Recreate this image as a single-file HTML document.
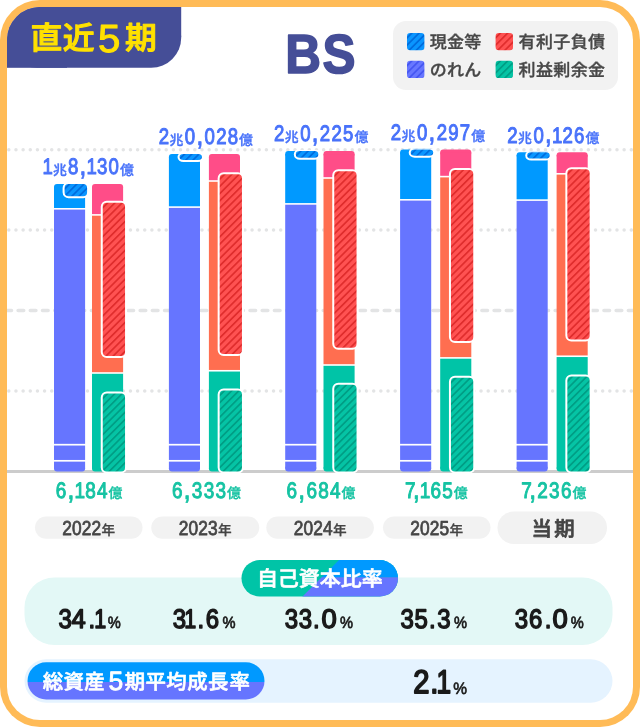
<!DOCTYPE html>
<html lang="ja">
<head>
<meta charset="utf-8">
<title>BS</title>
<style>
html,body{margin:0;padding:0;background:#fff;}
body{width:640px;height:727px;overflow:hidden;font-family:"Liberation Sans", "Noto Sans CJK JP", sans-serif;}
svg{display:block;}
text{font-family:"Liberation Sans", "Noto Sans CJK JP", sans-serif;font-weight:700;text-rendering:geometricPrecision;}
.lat{font-family:"Liberation Sans", sans-serif;}
.w4{font-weight:400;}
.w5{font-weight:500;}
.w7{font-weight:700;}
.cj{font-family:"Liberation Sans", "Noto Sans CJK JP", sans-serif;}
</style>
</head>
<body>
<svg width="640" height="727" viewBox="0 0 640 727">
<defs>

<pattern id="hCash" width="5.1" height="5.1" patternUnits="userSpaceOnUse" patternTransform="rotate(-45) translate(0 2.7)"><rect width="5.1" height="5.1" fill="#0A96FF"/><rect width="5.1" height="1.75" fill="#006CDD"/></pattern>
<pattern id="hGw" width="5.1" height="5.1" patternUnits="userSpaceOnUse" patternTransform="rotate(-45) translate(0 2.7)"><rect width="5.1" height="5.1" fill="#6877FF"/><rect width="5.1" height="1.75" fill="#4556F2"/></pattern>
<pattern id="hRed" width="5.1" height="5.1" patternUnits="userSpaceOnUse" patternTransform="rotate(-45) translate(0 2.7)"><rect width="5.1" height="5.1" fill="#FF5252"/><rect width="5.1" height="1.75" fill="#E02D2D"/></pattern>
<pattern id="hGrn" width="5.1" height="5.1" patternUnits="userSpaceOnUse" patternTransform="rotate(-45) translate(0 2.7)"><rect width="5.1" height="5.1" fill="#05C4A5"/><rect width="5.1" height="1.75" fill="#009E85"/></pattern>
<clipPath id="cardclip"><rect x="7" y="7" width="626" height="713" rx="33" ry="33"/></clipPath>
<clipPath id="pill1"><rect x="241.5" y="560" width="156.5" height="36.5" rx="18.25"/></clipPath>
<clipPath id="pill2"><rect x="27.5" y="662.3" width="237" height="37.2" rx="18.6"/></clipPath>
</defs>
<rect x="0" y="0" width="640" height="727" rx="40" ry="40" fill="#FFBB57"/>
<rect x="7" y="7" width="626" height="713" rx="33" ry="33" fill="#fff"/>
<g clip-path="url(#cardclip)" fill="#454E97"><rect x="7" y="7" width="174.2" height="60.8" rx="30"/><rect x="7" y="7" width="60" height="30"/><rect x="121" y="7" width="60.2" height="30"/><rect x="7" y="37" width="60" height="30.8"/></g>
<text class="w5" transform="translate(0 49.3) scale(1.04 1.02)" y="0" font-size="30.6" fill="#FFE100" stroke="#FFE100" stroke-width="1.0" stroke-linejoin="round"><tspan x="29.3">直</tspan><tspan x="60.35">近</tspan><tspan class="lat w4" x="94.3" dy="2.6" font-size="38.6">5</tspan><tspan x="120.15" dy="-2.6">期</tspan></text>
<text class="lat" transform="translate(285.2 73.1) scale(0.9 1)" x="0 41.5" y="0" font-size="55" fill="#454E97" stroke="#454E97" stroke-width="1.6" stroke-linejoin="round">BS</text>
<rect x="393" y="21" width="225" height="69" rx="13" fill="#F2F2F2"/>
<g transform="translate(407 32.9)"><rect width="17.4" height="17.4" rx="3.2" fill="url(#hCash)"/></g>
<g transform="translate(407 60.7)"><rect width="17.4" height="17.4" rx="3.2" fill="url(#hGw)"/></g>
<g transform="translate(495.6 32.9)"><rect width="17.4" height="17.4" rx="3.2" fill="url(#hRed)"/></g>
<g transform="translate(495.6 60.7)"><rect width="17.4" height="17.4" rx="3.2" fill="url(#hGrn)"/></g>
<text class="w5" x="429.80 447.00 464.20" y="48.3" font-size="17" fill="#474747" stroke="#474747" stroke-width="0.35" stroke-linejoin="round">現金等</text>
<text class="w5" x="429.80 447.00 464.20" y="76.3" font-size="17" fill="#474747" stroke="#474747" stroke-width="0.35" stroke-linejoin="round">のれん</text>
<text class="w5" x="518.60 535.95 553.30 570.65 588.00" y="48.3" font-size="17" fill="#474747" stroke="#474747" stroke-width="0.35" stroke-linejoin="round">有利子負債</text>
<text class="w5" x="518.60 535.95 553.30 570.65 588.00" y="76.3" font-size="17" fill="#474747" stroke="#474747" stroke-width="0.35" stroke-linejoin="round">利益剰余金</text>
<g clip-path="url(#cardclip)" fill="none" stroke="#E3E4E5" stroke-width="3.5" stroke-linecap="round">
<line x1="8.8" y1="149.7" x2="640" y2="149.7" stroke-dasharray="0.01 7.145"/>
<line x1="8.8" y1="230.1" x2="640" y2="230.1" stroke-dasharray="0.01 7.145"/>
<line x1="8.8" y1="390.9" x2="640" y2="390.9" stroke-dasharray="0.01 7.145"/>
<line x1="5.87" y1="310.6" x2="640" y2="310.6" stroke-dasharray="5.65 6.555"/>
</g>
<rect x="7" y="470" width="626" height="3" fill="#CCCCCC"/>
<g>
<rect x="54.00" y="184.00" width="31.1" height="6" rx="3" fill="#0099FF"/><rect x="54.00" y="187.00" width="31.1" height="21.00" fill="#0099FF"/>
<rect x="54.0" y="209.60" width="31.1" height="234.25" fill="#6675FF"/>
<rect x="54.0" y="445.55" width="31.1" height="14.4" fill="#6675FF"/>
<rect x="54.00" y="465.50" width="31.1" height="6" rx="3" fill="#6675FF"/><rect x="54.00" y="461.65" width="31.1" height="6.85" fill="#6675FF"/>
<g transform="translate(64.60 184.00)"><rect x="-1" y="-1" width="24.5" height="14.30" rx="5" fill="url(#hCash)" stroke="#fff" stroke-width="2" clip-path="inset(1px -3px -3px -3px)"/></g>
<rect x="92.00" y="184.00" width="31.1" height="6" rx="3" fill="#FF4D88"/><rect x="92.00" y="187.00" width="31.1" height="27.10" fill="#FF4D88"/>
<rect x="92.0" y="215.70" width="31.1" height="156.50" fill="#FF6E50"/>
<rect x="92.00" y="465.50" width="31.1" height="6" rx="3" fill="#00C4A7"/><rect x="92.00" y="373.80" width="31.1" height="94.70" fill="#00C4A7"/>
<g transform="translate(102.75 202.75)"><rect x="-1" y="-1" width="24.3" height="155.25" rx="5" fill="url(#hRed)" stroke="#fff" stroke-width="2"/></g>
<g transform="translate(102.75 393.50)"><rect x="-1" y="-1" width="24.3" height="80.00" rx="5" fill="url(#hGrn)" stroke="#fff" stroke-width="2"/></g>
</g>
<g>
<rect x="168.90" y="154.10" width="31.1" height="6" rx="3" fill="#0099FF"/><rect x="168.90" y="157.10" width="31.1" height="49.20" fill="#0099FF"/>
<rect x="168.9" y="207.90" width="31.1" height="235.95" fill="#6675FF"/>
<rect x="168.9" y="445.55" width="31.1" height="14.4" fill="#6675FF"/>
<rect x="168.90" y="465.50" width="31.1" height="6" rx="3" fill="#6675FF"/><rect x="168.90" y="461.65" width="31.1" height="6.85" fill="#6675FF"/>
<g transform="translate(179.50 154.10)"><rect x="-1" y="-1" width="24.5" height="7.90" rx="5" fill="url(#hCash)" stroke="#fff" stroke-width="2" clip-path="inset(1px -3px -3px -3px)"/></g>
<rect x="208.90" y="154.10" width="31.1" height="6" rx="3" fill="#FF4D88"/><rect x="208.90" y="157.10" width="31.1" height="23.10" fill="#FF4D88"/>
<rect x="208.9" y="181.80" width="31.1" height="188.15" fill="#FF6E50"/>
<rect x="208.90" y="465.50" width="31.1" height="6" rx="3" fill="#00C4A7"/><rect x="208.90" y="371.55" width="31.1" height="96.95" fill="#00C4A7"/>
<g transform="translate(219.65 174.25)"><rect x="-1" y="-1" width="24.3" height="181.75" rx="5" fill="url(#hRed)" stroke="#fff" stroke-width="2"/></g>
<g transform="translate(219.65 390.50)"><rect x="-1" y="-1" width="24.3" height="83.00" rx="5" fill="url(#hGrn)" stroke="#fff" stroke-width="2"/></g>
</g>
<g>
<rect x="285.20" y="151.10" width="31.1" height="6" rx="3" fill="#0099FF"/><rect x="285.20" y="154.10" width="31.1" height="49.00" fill="#0099FF"/>
<rect x="285.2" y="204.70" width="31.1" height="239.15" fill="#6675FF"/>
<rect x="285.2" y="445.55" width="31.1" height="14.4" fill="#6675FF"/>
<rect x="285.20" y="465.50" width="31.1" height="6" rx="3" fill="#6675FF"/><rect x="285.20" y="461.65" width="31.1" height="6.85" fill="#6675FF"/>
<g transform="translate(295.80 151.10)"><rect x="-1" y="-1" width="24.5" height="8.60" rx="5" fill="url(#hCash)" stroke="#fff" stroke-width="2" clip-path="inset(1px -3px -3px -3px)"/></g>
<rect x="323.50" y="151.10" width="31.1" height="6" rx="3" fill="#FF4D88"/><rect x="323.50" y="154.10" width="31.1" height="23.10" fill="#FF4D88"/>
<rect x="323.5" y="178.80" width="31.1" height="185.40" fill="#FF6E50"/>
<rect x="323.50" y="465.50" width="31.1" height="6" rx="3" fill="#00C4A7"/><rect x="323.50" y="365.80" width="31.1" height="102.70" fill="#00C4A7"/>
<g transform="translate(334.25 171.25)"><rect x="-1" y="-1" width="24.3" height="178.50" rx="5" fill="url(#hRed)" stroke="#fff" stroke-width="2"/></g>
<g transform="translate(334.25 384.75)"><rect x="-1" y="-1" width="24.3" height="88.75" rx="5" fill="url(#hGrn)" stroke="#fff" stroke-width="2"/></g>
</g>
<g>
<rect x="400.10" y="149.60" width="31.1" height="6" rx="3" fill="#0099FF"/><rect x="400.10" y="152.60" width="31.1" height="46.40" fill="#0099FF"/>
<rect x="400.1" y="200.60" width="31.1" height="243.25" fill="#6675FF"/>
<rect x="400.1" y="445.55" width="31.1" height="14.4" fill="#6675FF"/>
<rect x="400.10" y="465.50" width="31.1" height="6" rx="3" fill="#6675FF"/><rect x="400.10" y="461.65" width="31.1" height="6.85" fill="#6675FF"/>
<g transform="translate(410.70 149.60)"><rect x="-1" y="-1" width="24.5" height="8.10" rx="5" fill="url(#hCash)" stroke="#fff" stroke-width="2" clip-path="inset(1px -3px -3px -3px)"/></g>
<rect x="440.20" y="149.60" width="31.1" height="6" rx="3" fill="#FF4D88"/><rect x="440.20" y="152.60" width="31.1" height="23.20" fill="#FF4D88"/>
<rect x="440.2" y="177.40" width="31.1" height="179.70" fill="#FF6E50"/>
<rect x="440.20" y="465.50" width="31.1" height="6" rx="3" fill="#00C4A7"/><rect x="440.20" y="358.70" width="31.1" height="109.80" fill="#00C4A7"/>
<g transform="translate(450.95 170.00)"><rect x="-1" y="-1" width="24.3" height="173.00" rx="5" fill="url(#hRed)" stroke="#fff" stroke-width="2"/></g>
<g transform="translate(450.95 377.75)"><rect x="-1" y="-1" width="24.3" height="95.75" rx="5" fill="url(#hGrn)" stroke="#fff" stroke-width="2"/></g>
</g>
<g>
<rect x="516.60" y="152.30" width="31.1" height="6" rx="3" fill="#0099FF"/><rect x="516.60" y="155.30" width="31.1" height="44.00" fill="#0099FF"/>
<rect x="516.6" y="200.90" width="31.1" height="242.95" fill="#6675FF"/>
<rect x="516.6" y="445.55" width="31.1" height="14.4" fill="#6675FF"/>
<rect x="516.60" y="465.50" width="31.1" height="6" rx="3" fill="#6675FF"/><rect x="516.60" y="461.65" width="31.1" height="6.85" fill="#6675FF"/>
<g transform="translate(527.20 152.30)"><rect x="-1" y="-1" width="24.5" height="8.30" rx="5" fill="url(#hCash)" stroke="#fff" stroke-width="2" clip-path="inset(1px -3px -3px -3px)"/></g>
<rect x="556.60" y="152.30" width="31.1" height="6" rx="3" fill="#FF4D88"/><rect x="556.60" y="155.30" width="31.1" height="17.70" fill="#FF4D88"/>
<rect x="556.6" y="174.60" width="31.1" height="180.85" fill="#FF6E50"/>
<rect x="556.60" y="465.50" width="31.1" height="6" rx="3" fill="#00C4A7"/><rect x="556.60" y="357.05" width="31.1" height="111.45" fill="#00C4A7"/>
<g transform="translate(567.35 169.20)"><rect x="-1" y="-1" width="24.3" height="172.30" rx="5" fill="url(#hRed)" stroke="#fff" stroke-width="2"/></g>
<g transform="translate(567.35 376.50)"><rect x="-1" y="-1" width="24.3" height="97.00" rx="5" fill="url(#hGrn)" stroke="#fff" stroke-width="2"/></g>
</g>
<text fill="#4872FA" stroke="#4872FA" stroke-linejoin="round"><tspan class="lat w4" x="42.58" y="174.25" font-size="22.4" stroke-width="1.0" textLength="10.34" lengthAdjust="spacingAndGlyphs">1</tspan><tspan class="cj w5" x="53.00" y="175.15" font-size="13.9" stroke-width="0.35">兆</tspan><tspan class="lat w4" x="67.93" y="174.25" font-size="22.4" stroke-width="1.0" textLength="10.34" lengthAdjust="spacingAndGlyphs">8</tspan><tspan class="lat w7" x="80.27" y="175.05" font-size="22.4" stroke-width="0.7" textLength="5.17" lengthAdjust="spacingAndGlyphs">,</tspan><tspan class="lat w4" x="86.47" y="174.25" font-size="22.4" stroke-width="1.0" textLength="10.34" lengthAdjust="spacingAndGlyphs">1</tspan><tspan class="lat w4" x="96.91" y="174.25" font-size="22.4" stroke-width="1.0" textLength="10.34" lengthAdjust="spacingAndGlyphs">3</tspan><tspan class="lat w4" x="108.51" y="174.25" font-size="22.4" stroke-width="1.0" textLength="10.34" lengthAdjust="spacingAndGlyphs">0</tspan><tspan class="cj w5" x="119.88" y="175.15" font-size="13.9" stroke-width="0.35">億</tspan></text>
<text fill="#16C3A3" stroke="#16C3A3" stroke-linejoin="round"><tspan class="lat w4" x="55.79" y="497.90" font-size="22.4" stroke-width="1.0" textLength="10.53" lengthAdjust="spacingAndGlyphs">6</tspan><tspan class="lat w7" x="68.27" y="498.70" font-size="22.4" stroke-width="0.7" textLength="5.26" lengthAdjust="spacingAndGlyphs">,</tspan><tspan class="lat w4" x="74.51" y="497.90" font-size="22.4" stroke-width="1.0" textLength="10.53" lengthAdjust="spacingAndGlyphs">1</tspan><tspan class="lat w4" x="85.13" y="497.90" font-size="22.4" stroke-width="1.0" textLength="10.53" lengthAdjust="spacingAndGlyphs">8</tspan><tspan class="lat w4" x="96.93" y="497.90" font-size="22.4" stroke-width="1.0" textLength="10.53" lengthAdjust="spacingAndGlyphs">4</tspan><tspan class="cj w5" x="108.49" y="498.40" font-size="13.9" stroke-width="0.35">億</tspan></text>
<text fill="#4872FA" stroke="#4872FA" stroke-linejoin="round"><tspan class="lat w4" x="158.63" y="144.35" font-size="22.4" stroke-width="1.0" textLength="10.34" lengthAdjust="spacingAndGlyphs">2</tspan><tspan class="cj w5" x="169.40" y="145.25" font-size="13.9" stroke-width="0.35">兆</tspan><tspan class="lat w4" x="184.83" y="144.35" font-size="22.4" stroke-width="1.0" textLength="10.34" lengthAdjust="spacingAndGlyphs">0</tspan><tspan class="lat w7" x="197.17" y="145.15" font-size="22.4" stroke-width="0.7" textLength="5.17" lengthAdjust="spacingAndGlyphs">,</tspan><tspan class="lat w4" x="204.53" y="144.35" font-size="22.4" stroke-width="1.0" textLength="10.34" lengthAdjust="spacingAndGlyphs">0</tspan><tspan class="lat w4" x="216.13" y="144.35" font-size="22.4" stroke-width="1.0" textLength="10.34" lengthAdjust="spacingAndGlyphs">2</tspan><tspan class="lat w4" x="227.73" y="144.35" font-size="22.4" stroke-width="1.0" textLength="10.34" lengthAdjust="spacingAndGlyphs">8</tspan><tspan class="cj w5" x="239.10" y="145.25" font-size="13.9" stroke-width="0.35">億</tspan></text>
<text fill="#16C3A3" stroke="#16C3A3" stroke-linejoin="round"><tspan class="lat w4" x="171.94" y="497.90" font-size="22.4" stroke-width="1.0" textLength="10.53" lengthAdjust="spacingAndGlyphs">6</tspan><tspan class="lat w7" x="184.42" y="498.70" font-size="22.4" stroke-width="0.7" textLength="5.26" lengthAdjust="spacingAndGlyphs">,</tspan><tspan class="lat w4" x="191.84" y="497.90" font-size="22.4" stroke-width="1.0" textLength="10.53" lengthAdjust="spacingAndGlyphs">3</tspan><tspan class="lat w4" x="203.64" y="497.90" font-size="22.4" stroke-width="1.0" textLength="10.53" lengthAdjust="spacingAndGlyphs">3</tspan><tspan class="lat w4" x="215.44" y="497.90" font-size="22.4" stroke-width="1.0" textLength="10.53" lengthAdjust="spacingAndGlyphs">3</tspan><tspan class="cj w5" x="227.00" y="498.40" font-size="13.9" stroke-width="0.35">億</tspan></text>
<text fill="#4872FA" stroke="#4872FA" stroke-linejoin="round"><tspan class="lat w4" x="273.93" y="141.35" font-size="22.4" stroke-width="1.0" textLength="10.34" lengthAdjust="spacingAndGlyphs">2</tspan><tspan class="cj w5" x="284.70" y="142.25" font-size="13.9" stroke-width="0.35">兆</tspan><tspan class="lat w4" x="300.13" y="141.35" font-size="22.4" stroke-width="1.0" textLength="10.34" lengthAdjust="spacingAndGlyphs">0</tspan><tspan class="lat w7" x="312.47" y="142.15" font-size="22.4" stroke-width="0.7" textLength="5.17" lengthAdjust="spacingAndGlyphs">,</tspan><tspan class="lat w4" x="319.83" y="141.35" font-size="22.4" stroke-width="1.0" textLength="10.34" lengthAdjust="spacingAndGlyphs">2</tspan><tspan class="lat w4" x="331.43" y="141.35" font-size="22.4" stroke-width="1.0" textLength="10.34" lengthAdjust="spacingAndGlyphs">2</tspan><tspan class="lat w4" x="343.03" y="141.35" font-size="22.4" stroke-width="1.0" textLength="10.34" lengthAdjust="spacingAndGlyphs">5</tspan><tspan class="cj w5" x="354.40" y="142.25" font-size="13.9" stroke-width="0.35">億</tspan></text>
<text fill="#16C3A3" stroke="#16C3A3" stroke-linejoin="round"><tspan class="lat w4" x="286.54" y="497.90" font-size="22.4" stroke-width="1.0" textLength="10.53" lengthAdjust="spacingAndGlyphs">6</tspan><tspan class="lat w7" x="299.02" y="498.70" font-size="22.4" stroke-width="0.7" textLength="5.26" lengthAdjust="spacingAndGlyphs">,</tspan><tspan class="lat w4" x="306.44" y="497.90" font-size="22.4" stroke-width="1.0" textLength="10.53" lengthAdjust="spacingAndGlyphs">6</tspan><tspan class="lat w4" x="318.24" y="497.90" font-size="22.4" stroke-width="1.0" textLength="10.53" lengthAdjust="spacingAndGlyphs">8</tspan><tspan class="lat w4" x="330.04" y="497.90" font-size="22.4" stroke-width="1.0" textLength="10.53" lengthAdjust="spacingAndGlyphs">4</tspan><tspan class="cj w5" x="341.60" y="498.40" font-size="13.9" stroke-width="0.35">億</tspan></text>
<text fill="#4872FA" stroke="#4872FA" stroke-linejoin="round"><tspan class="lat w4" x="390.73" y="139.85" font-size="22.4" stroke-width="1.0" textLength="10.34" lengthAdjust="spacingAndGlyphs">2</tspan><tspan class="cj w5" x="401.50" y="140.75" font-size="13.9" stroke-width="0.35">兆</tspan><tspan class="lat w4" x="416.93" y="139.85" font-size="22.4" stroke-width="1.0" textLength="10.34" lengthAdjust="spacingAndGlyphs">0</tspan><tspan class="lat w7" x="429.27" y="140.65" font-size="22.4" stroke-width="0.7" textLength="5.17" lengthAdjust="spacingAndGlyphs">,</tspan><tspan class="lat w4" x="436.63" y="139.85" font-size="22.4" stroke-width="1.0" textLength="10.34" lengthAdjust="spacingAndGlyphs">2</tspan><tspan class="lat w4" x="448.23" y="139.85" font-size="22.4" stroke-width="1.0" textLength="10.34" lengthAdjust="spacingAndGlyphs">9</tspan><tspan class="lat w4" x="459.83" y="139.85" font-size="22.4" stroke-width="1.0" textLength="10.34" lengthAdjust="spacingAndGlyphs">7</tspan><tspan class="cj w5" x="471.20" y="140.75" font-size="13.9" stroke-width="0.35">億</tspan></text>
<text fill="#16C3A3" stroke="#16C3A3" stroke-linejoin="round"><tspan class="lat w4" x="405.04" y="497.90" font-size="22.4" stroke-width="1.0" textLength="10.53" lengthAdjust="spacingAndGlyphs">7</tspan><tspan class="lat w7" x="413.63" y="498.70" font-size="22.4" stroke-width="0.7" textLength="5.26" lengthAdjust="spacingAndGlyphs">,</tspan><tspan class="lat w4" x="419.86" y="497.90" font-size="22.4" stroke-width="1.0" textLength="10.53" lengthAdjust="spacingAndGlyphs">1</tspan><tspan class="lat w4" x="430.48" y="497.90" font-size="22.4" stroke-width="1.0" textLength="10.53" lengthAdjust="spacingAndGlyphs">6</tspan><tspan class="lat w4" x="442.28" y="497.90" font-size="22.4" stroke-width="1.0" textLength="10.53" lengthAdjust="spacingAndGlyphs">5</tspan><tspan class="cj w5" x="453.85" y="498.40" font-size="13.9" stroke-width="0.35">億</tspan></text>
<text fill="#4872FA" stroke="#4872FA" stroke-linejoin="round"><tspan class="lat w4" x="507.23" y="142.55" font-size="22.4" stroke-width="1.0" textLength="10.34" lengthAdjust="spacingAndGlyphs">2</tspan><tspan class="cj w5" x="518.00" y="143.45" font-size="13.9" stroke-width="0.35">兆</tspan><tspan class="lat w4" x="533.43" y="142.55" font-size="22.4" stroke-width="1.0" textLength="10.34" lengthAdjust="spacingAndGlyphs">0</tspan><tspan class="lat w7" x="545.77" y="143.35" font-size="22.4" stroke-width="0.7" textLength="5.17" lengthAdjust="spacingAndGlyphs">,</tspan><tspan class="lat w4" x="551.97" y="142.55" font-size="22.4" stroke-width="1.0" textLength="10.34" lengthAdjust="spacingAndGlyphs">1</tspan><tspan class="lat w4" x="562.41" y="142.55" font-size="22.4" stroke-width="1.0" textLength="10.34" lengthAdjust="spacingAndGlyphs">2</tspan><tspan class="lat w4" x="574.01" y="142.55" font-size="22.4" stroke-width="1.0" textLength="10.34" lengthAdjust="spacingAndGlyphs">6</tspan><tspan class="cj w5" x="585.38" y="143.45" font-size="13.9" stroke-width="0.35">億</tspan></text>
<text fill="#16C3A3" stroke="#16C3A3" stroke-linejoin="round"><tspan class="lat w4" x="521.29" y="497.90" font-size="22.4" stroke-width="1.0" textLength="10.53" lengthAdjust="spacingAndGlyphs">7</tspan><tspan class="lat w7" x="529.88" y="498.70" font-size="22.4" stroke-width="0.7" textLength="5.26" lengthAdjust="spacingAndGlyphs">,</tspan><tspan class="lat w4" x="537.29" y="497.90" font-size="22.4" stroke-width="1.0" textLength="10.53" lengthAdjust="spacingAndGlyphs">2</tspan><tspan class="lat w4" x="549.09" y="497.90" font-size="22.4" stroke-width="1.0" textLength="10.53" lengthAdjust="spacingAndGlyphs">3</tspan><tspan class="lat w4" x="560.89" y="497.90" font-size="22.4" stroke-width="1.0" textLength="10.53" lengthAdjust="spacingAndGlyphs">6</tspan><tspan class="cj w5" x="572.46" y="498.40" font-size="13.9" stroke-width="0.35">億</tspan></text>
<rect x="35" y="516.4" width="107.50" height="22.4" rx="11.2" fill="#F2F2F2"/>
<text fill="#444" stroke="#444" stroke-linejoin="round"><tspan class="lat w4" x="62.29" y="535.30" font-size="20.2" stroke-width="0.75" textLength="9.66" lengthAdjust="spacingAndGlyphs">2</tspan><tspan class="lat w4" x="72.04" y="535.30" font-size="20.2" stroke-width="0.75" textLength="9.66" lengthAdjust="spacingAndGlyphs">0</tspan><tspan class="lat w4" x="81.79" y="535.30" font-size="20.2" stroke-width="0.75" textLength="9.66" lengthAdjust="spacingAndGlyphs">2</tspan><tspan class="lat w4" x="91.54" y="535.30" font-size="20.2" stroke-width="0.75" textLength="9.66" lengthAdjust="spacingAndGlyphs">2</tspan><tspan class="cj w5" x="101.55" y="535.00" font-size="13.6" stroke-width="0.35">年</tspan></text>
<rect x="151.25" y="516.4" width="108.00" height="22.4" rx="11.2" fill="#F2F2F2"/>
<text fill="#444" stroke="#444" stroke-linejoin="round"><tspan class="lat w4" x="178.79" y="535.30" font-size="20.2" stroke-width="0.75" textLength="9.66" lengthAdjust="spacingAndGlyphs">2</tspan><tspan class="lat w4" x="188.54" y="535.30" font-size="20.2" stroke-width="0.75" textLength="9.66" lengthAdjust="spacingAndGlyphs">0</tspan><tspan class="lat w4" x="198.29" y="535.30" font-size="20.2" stroke-width="0.75" textLength="9.66" lengthAdjust="spacingAndGlyphs">2</tspan><tspan class="lat w4" x="208.04" y="535.30" font-size="20.2" stroke-width="0.75" textLength="9.66" lengthAdjust="spacingAndGlyphs">3</tspan><tspan class="cj w5" x="218.05" y="535.00" font-size="13.6" stroke-width="0.35">年</tspan></text>
<rect x="266.3" y="516.4" width="107.60" height="22.4" rx="11.2" fill="#F2F2F2"/>
<text fill="#444" stroke="#444" stroke-linejoin="round"><tspan class="lat w4" x="293.64" y="535.30" font-size="20.2" stroke-width="0.75" textLength="9.66" lengthAdjust="spacingAndGlyphs">2</tspan><tspan class="lat w4" x="303.39" y="535.30" font-size="20.2" stroke-width="0.75" textLength="9.66" lengthAdjust="spacingAndGlyphs">0</tspan><tspan class="lat w4" x="313.14" y="535.30" font-size="20.2" stroke-width="0.75" textLength="9.66" lengthAdjust="spacingAndGlyphs">2</tspan><tspan class="lat w4" x="322.89" y="535.30" font-size="20.2" stroke-width="0.75" textLength="9.66" lengthAdjust="spacingAndGlyphs">4</tspan><tspan class="cj w5" x="332.90" y="535.00" font-size="13.6" stroke-width="0.35">年</tspan></text>
<rect x="383" y="516.4" width="107.50" height="22.4" rx="11.2" fill="#F2F2F2"/>
<text fill="#444" stroke="#444" stroke-linejoin="round"><tspan class="lat w4" x="410.29" y="535.30" font-size="20.2" stroke-width="0.75" textLength="9.66" lengthAdjust="spacingAndGlyphs">2</tspan><tspan class="lat w4" x="420.04" y="535.30" font-size="20.2" stroke-width="0.75" textLength="9.66" lengthAdjust="spacingAndGlyphs">0</tspan><tspan class="lat w4" x="429.79" y="535.30" font-size="20.2" stroke-width="0.75" textLength="9.66" lengthAdjust="spacingAndGlyphs">2</tspan><tspan class="lat w4" x="439.54" y="535.30" font-size="20.2" stroke-width="0.75" textLength="9.66" lengthAdjust="spacingAndGlyphs">5</tspan><tspan class="cj w5" x="449.55" y="535.00" font-size="13.6" stroke-width="0.35">年</tspan></text>
<rect x="497.5" y="511.5" width="109.5" height="32.5" rx="16.25" fill="#F2F2F2"/>
<text class="w5" x="531.6 554.3" y="535.8" font-size="20.4" fill="#444" stroke="#444" stroke-width="0.7" stroke-linejoin="round">当期</text>
<rect x="24.5" y="577.5" width="588" height="67.5" rx="30" fill="#E3F8F6"/>
<g clip-path="url(#pill1)">
<rect x="241" y="559" width="158" height="39" fill="#00C4A7"/>
<polygon points="339.5,559.5 400,559.5 400,577.3 321.7,577.3" fill="#0099FF"/>
<polygon points="321.7,577.3 400,577.3 400,598 301,598" fill="#6675FF"/>
</g>
<text x="256.90 277.86 298.82 319.78 340.74 361.70" y="586" class="w5" font-size="21" fill="#fff" stroke="#fff" stroke-width="0.6" stroke-linejoin="round">自己資本比率</text>
<text fill="#1A1A1A" stroke="#1A1A1A" stroke-linejoin="round"><tspan class="lat w4" x="58.39" y="627.80" font-size="26.9" stroke-width="1.5" textLength="13.31" lengthAdjust="spacingAndGlyphs">3</tspan><tspan class="lat w4" x="71.62" y="627.80" font-size="26.9" stroke-width="1.5" textLength="14.21" lengthAdjust="spacingAndGlyphs">4</tspan><tspan class="lat w4" x="88.55" y="627.80" font-size="26.9" stroke-width="1.5" textLength="6.65" lengthAdjust="spacingAndGlyphs">.</tspan><tspan class="lat w4" x="94.25" y="627.80" font-size="26.9" stroke-width="1.5" textLength="11.97" lengthAdjust="spacingAndGlyphs">1</tspan><tspan class="lat w4" x="107.71" y="628.30" font-size="16.3" stroke-width="0.7" textLength="13.04" lengthAdjust="spacingAndGlyphs">%</tspan></text>
<text fill="#1A1A1A" stroke="#1A1A1A" stroke-linejoin="round"><tspan class="lat w4" x="172.74" y="627.80" font-size="26.9" stroke-width="1.5" textLength="13.31" lengthAdjust="spacingAndGlyphs">3</tspan><tspan class="lat w4" x="184.15" y="627.80" font-size="26.9" stroke-width="1.5" textLength="11.97" lengthAdjust="spacingAndGlyphs">1</tspan><tspan class="lat w4" x="197.45" y="627.80" font-size="26.9" stroke-width="1.5" textLength="6.65" lengthAdjust="spacingAndGlyphs">.</tspan><tspan class="lat w4" x="205.80" y="627.80" font-size="26.9" stroke-width="1.5" textLength="13.31" lengthAdjust="spacingAndGlyphs">6</tspan><tspan class="lat w4" x="222.41" y="628.30" font-size="16.3" stroke-width="0.7" textLength="13.04" lengthAdjust="spacingAndGlyphs">%</tspan></text>
<text fill="#1A1A1A" stroke="#1A1A1A" stroke-linejoin="round"><tspan class="lat w4" x="284.64" y="627.80" font-size="26.9" stroke-width="1.5" textLength="13.31" lengthAdjust="spacingAndGlyphs">3</tspan><tspan class="lat w4" x="298.74" y="627.80" font-size="26.9" stroke-width="1.5" textLength="13.31" lengthAdjust="spacingAndGlyphs">3</tspan><tspan class="lat w4" x="313.05" y="627.80" font-size="26.9" stroke-width="1.5" textLength="6.65" lengthAdjust="spacingAndGlyphs">.</tspan><tspan class="lat w4" x="321.42" y="627.80" font-size="26.9" stroke-width="1.5" textLength="15.26" lengthAdjust="spacingAndGlyphs">0</tspan><tspan class="lat w4" x="339.91" y="628.30" font-size="16.3" stroke-width="0.7" textLength="13.04" lengthAdjust="spacingAndGlyphs">%</tspan></text>
<text fill="#1A1A1A" stroke="#1A1A1A" stroke-linejoin="round"><tspan class="lat w4" x="400.54" y="627.80" font-size="26.9" stroke-width="1.5" textLength="13.31" lengthAdjust="spacingAndGlyphs">3</tspan><tspan class="lat w4" x="414.40" y="627.80" font-size="26.9" stroke-width="1.5" textLength="13.31" lengthAdjust="spacingAndGlyphs">5</tspan><tspan class="lat w4" x="428.95" y="627.80" font-size="26.9" stroke-width="1.5" textLength="6.65" lengthAdjust="spacingAndGlyphs">.</tspan><tspan class="lat w4" x="437.14" y="627.80" font-size="26.9" stroke-width="1.5" textLength="13.31" lengthAdjust="spacingAndGlyphs">3</tspan><tspan class="lat w4" x="454.01" y="628.30" font-size="16.3" stroke-width="0.7" textLength="13.04" lengthAdjust="spacingAndGlyphs">%</tspan></text>
<text fill="#1A1A1A" stroke="#1A1A1A" stroke-linejoin="round"><tspan class="lat w4" x="514.64" y="627.80" font-size="26.9" stroke-width="1.5" textLength="13.31" lengthAdjust="spacingAndGlyphs">3</tspan><tspan class="lat w4" x="528.90" y="627.80" font-size="26.9" stroke-width="1.5" textLength="13.31" lengthAdjust="spacingAndGlyphs">6</tspan><tspan class="lat w4" x="544.75" y="627.80" font-size="26.9" stroke-width="1.5" textLength="6.65" lengthAdjust="spacingAndGlyphs">.</tspan><tspan class="lat w4" x="552.62" y="627.80" font-size="26.9" stroke-width="1.5" textLength="15.26" lengthAdjust="spacingAndGlyphs">0</tspan><tspan class="lat w4" x="570.86" y="628.30" font-size="16.3" stroke-width="0.7" textLength="13.04" lengthAdjust="spacingAndGlyphs">%</tspan></text>
<rect x="24.5" y="659.3" width="588" height="43.4" rx="21.7" fill="#E5F3FF"/>
<g clip-path="url(#pill2)">
<rect x="27" y="662" width="238" height="20" fill="#0099FF"/>
<rect x="27" y="682" width="238" height="18" fill="#6675FF"/>
</g>
<text class="w5" y="689" font-size="20.4" fill="#fff" stroke="#fff" stroke-width="0.6" stroke-linejoin="round"><tspan x="42.65 63.42 84.19">総資産</tspan><tspan class="lat w4" x="108.4" dy="1.3" font-size="26.5" stroke-width="0.8">5</tspan><tspan x="124.83 145.60 166.37 187.14 207.91 229.58" dy="-1.3">期平均成長率</tspan></text>
<text fill="#1A1A1A" stroke="#1A1A1A" stroke-linejoin="round"><tspan class="lat w4" x="413.22" y="693.30" font-size="32.8" stroke-width="1.8" textLength="16.24" lengthAdjust="spacingAndGlyphs">2</tspan><tspan class="lat w4" x="430.21" y="693.30" font-size="32.8" stroke-width="1.8" textLength="8.11" lengthAdjust="spacingAndGlyphs">.</tspan><tspan class="lat w4" x="436.46" y="693.30" font-size="32.8" stroke-width="1.8" textLength="14.59" lengthAdjust="spacingAndGlyphs">1</tspan><tspan class="lat w4" x="453.28" y="694.20" font-size="16.6" stroke-width="0.7" textLength="13.73" lengthAdjust="spacingAndGlyphs">%</tspan></text>
</svg>
</body>
</html>
